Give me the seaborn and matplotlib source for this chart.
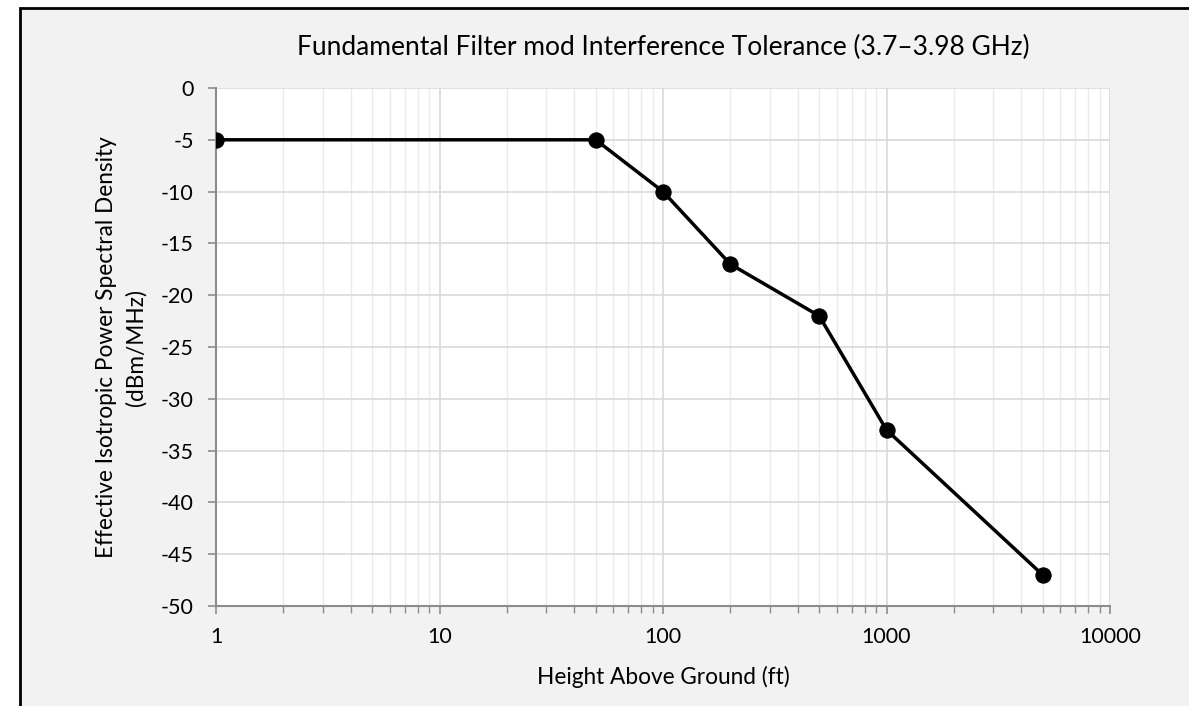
import numpy as np
import pandas as pd
import matplotlib
matplotlib.use("Agg")
import matplotlib.pyplot as plt
import matplotlib.ticker as mticker
from matplotlib.patches import Rectangle
import seaborn as sns

# data
height_ft = [1, 50, 100, 200, 500, 1000, 5000]
eirp_psd = [-5, -5, -10, -17, -22, -33, -47]
x_ticks = [1, 10, 100, 1000, 10000]
y_ticks = list(range(0, -51, -5))

df = pd.DataFrame({"height": height_ft, "psd": eirp_psd})

sns.set_theme(style="white")
plt.rcParams['font.family'] = ['Lato', 'DejaVu Sans']
plt.rcParams['axes.unicode_minus'] = False

fig = plt.figure(figsize=(11.89, 7.06), dpi=100)
fig.patch.set_facecolor("white")
# outer chart frame (light gray with black border)
fig.patches.append(Rectangle((20 / 1189, -0.05), 1.1, 1 - 8 / 706 + 0.05,
                             transform=fig.transFigure, facecolor="#F2F2F2",
                             edgecolor="black", linewidth=2, zorder=-10))

ax = fig.add_axes([216 / 1189, 1 - 606 / 706, (1110 - 216) / 1189, (606 - 88) / 706])
ax.set_facecolor("white")

sns.lineplot(data=df, x="height", y="psd", ax=ax, color="black", linewidth=2.5,
             marker="o", markersize=11, markeredgecolor="black", zorder=5)

ax.set_xscale("log")
ax.set_xlim(1, 10000)
ax.set_ylim(-50, 0)
ax.set_xticks(x_ticks)
ax.xaxis.set_major_formatter(mticker.FuncFormatter(lambda v, p: f"{int(v)}"))
ax.xaxis.set_minor_locator(mticker.LogLocator(base=10, subs=np.arange(2, 10)))
ax.xaxis.set_minor_formatter(mticker.NullFormatter())
ax.set_yticks(y_ticks)
ax.yaxis.set_major_formatter(mticker.FuncFormatter(lambda v, p: f"{int(v)}"))

ax.grid(True, which="major", color="#D9D9D9", linewidth=1.2)
ax.grid(True, which="minor", axis="x", color="#EBEBEB", linewidth=1.0)
ax.set_axisbelow(True)

for s in ["top", "right"]:
    ax.spines[s].set_visible(False)
for s in ["left", "bottom"]:
    ax.spines[s].set_color("#8C8C8C")
    ax.spines[s].set_linewidth(1.5)

ax.tick_params(axis="both", which="both", direction="out", color="#8C8C8C",
               labelsize=15.5, labelcolor="black")
ax.tick_params(axis="x", which="major", length=6, width=1.2, bottom=True, pad=9)
ax.tick_params(axis="x", which="minor", length=5, width=1.0, bottom=True)
ax.tick_params(axis="y", which="major", length=6, width=1.2, left=True, pad=10)

ax.set_title("Fundamental Filter mod Interference Tolerance (3.7–3.98 GHz)",
             fontsize=19, color="black", pad=24)
ax.set_xlabel("Height Above Ground (ft)", fontsize=16.3, color="black", labelpad=14)
ax.set_ylabel("Effective Isotropic Power Spectral Density\n(dBm/MHz)",
              fontsize=16.3, color="black", labelpad=10, linespacing=1.45)

fig.savefig("out.png", dpi=100)
